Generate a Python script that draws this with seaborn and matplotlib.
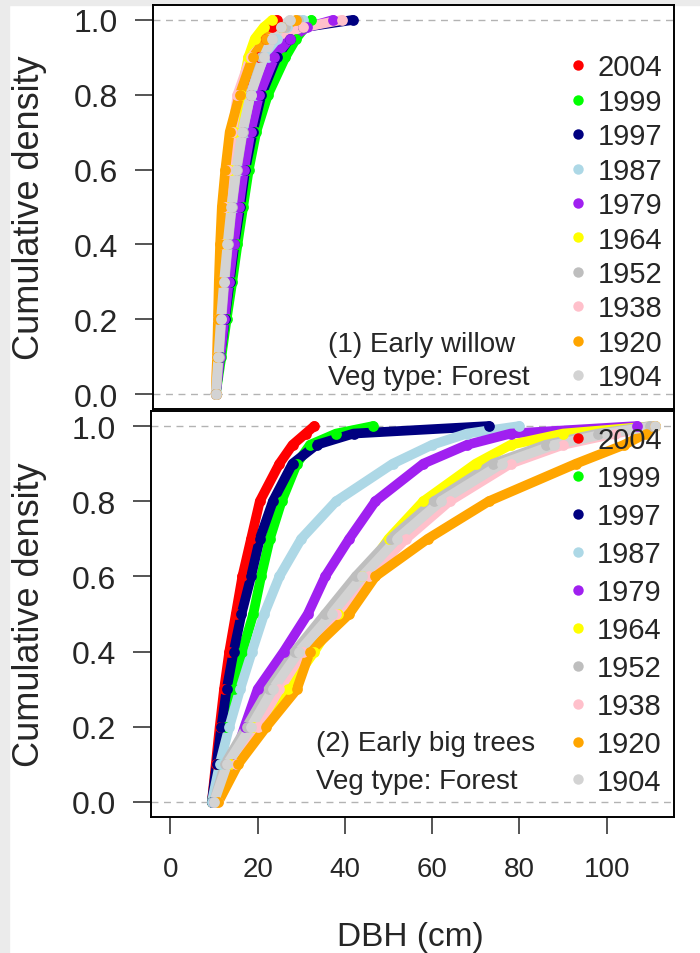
import matplotlib
matplotlib.use("Agg")
import matplotlib.pyplot as plt
import seaborn as sns
from matplotlib.lines import Line2D
from matplotlib.patches import Rectangle

sns.set_style("white")
plt.rcParams['font.family'] = ['Liberation Sans', 'DejaVu Sans']

years = ["2004", "1999", "1997", "1987", "1979", "1964", "1952", "1938", "1920", "1904"]
year_colors = ["#FF0000", "#00FF00", "#000080", "#ADD8E6", "#A020F0",
               "#FFFF00", "#BEBEBE", "#FFC0CB", "#FFA500", "#D3D3D3"]

cum_levels = [0, 0.1, 0.2, 0.3, 0.4, 0.5, 0.6, 0.7, 0.8, 0.9, 0.95, 0.98, 1.0]

# (1) Early willow, DBH (cm) at each level
willow_2004 = [10, 10.7, 11.4, 12.2, 13, 13.9, 15, 16.3, 18, 20, 21.5, 23, 24]
willow_1999 = [10, 11.3, 12.5, 13.8, 15, 16.3, 17.6, 19.3, 22, 26, 28.5, 30.5, 32]
willow_1997 = [10, 11, 12.1, 13.2, 14.3, 15.6, 16.8, 18.5, 20.5, 24, 27, 30, 41.5]
willow_1987 = [10, 10.8, 11.6, 12.5, 13.4, 14.4, 15.6, 17, 19, 22, 24, 26.5, 30]
willow_1979 = [10, 11, 12, 13, 14.1, 15.3, 16.5, 18, 20, 23.5, 27, 31, 37]
willow_1964 = [10, 10.4, 10.8, 11.3, 11.9, 12.6, 13.5, 14.5, 15.8, 17.5, 19, 21, 23]
willow_1952 = [10, 10.7, 11.3, 12, 12.8, 13.7, 14.8, 16.2, 18, 20.5, 23, 26, 29]
willow_1938 = [10, 10.3, 10.6, 11, 11.5, 12.1, 12.9, 13.8, 15, 18, 22, 30, 39]
willow_1920 = [10, 10.3, 10.5, 10.7, 11, 11.4, 12.2, 13.2, 15.5, 18.5, 21.5, 25, 28.5]
willow_1904 = [10, 10.6, 11.2, 11.9, 12.7, 13.6, 14.7, 16.1, 18, 21, 23, 25, 27]

# (2) Early big trees
big_2004 = [9.5, 10.4, 11.3, 12.3, 13.5, 15, 16.5, 18.5, 20.5, 25, 28, 31, 33]
big_1999 = [9.5, 11, 12.8, 14.5, 16.5, 19, 20.8, 22.8, 25.5, 29, 32, 38, 46.5]
big_1997 = [9.5, 10.6, 11.7, 12.9, 14.5, 16.3, 18.5, 20.5, 23.5, 28, 33.5, 42, 73]
big_1987 = [9.5, 11.3, 13.5, 16, 18.7, 21.5, 25, 30, 38, 51, 60, 68, 80]
big_1979 = [10, 14.2, 17, 20, 26, 31.5, 35.5, 41, 47, 58, 68, 78, 107]
big_1964 = [10.5, 14, 19, 27, 33, 38.5, 44, 50, 58, 70, 78, 90, 111]
big_1952 = [10, 12.5, 17.5, 22.5, 28.5, 35.5, 42.5, 50.5, 60.5, 74, 86, 98, 110]
big_1938 = [11, 15, 20, 25, 30.5, 38, 45.5, 54, 64, 78, 90, 102, 111]
big_1920 = [11, 15.5, 22, 29, 32, 41, 47, 59, 73, 93, 104, 109, 111]
big_1904 = [10, 13, 18.5, 23.5, 29.5, 37, 44, 52, 62, 76, 88, 100, 111]

willow = [willow_2004, willow_1999, willow_1997, willow_1987, willow_1979,
          willow_1964, willow_1952, willow_1938, willow_1920, willow_1904]
big = [big_2004, big_1999, big_1997, big_1987, big_1979,
       big_1964, big_1952, big_1938, big_1920, big_1904]

x_ticks = [0, 20, 40, 60, 80, 100]
y_ticks = [0.0, 0.2, 0.4, 0.6, 0.8, 1.0]

fig = plt.figure(figsize=(7.0, 9.54), dpi=100)
fig.patch.set_facecolor("white")
# screenshot border
fig.add_artist(Rectangle((0, 0), 9 / 700, 1, transform=fig.transFigure, color="#ebebeb", zorder=-5))
fig.add_artist(Rectangle((0, 1 - 6 / 954), 1, 6 / 954, transform=fig.transFigure, color="#ebebeb", zorder=-5))

ax1 = fig.add_axes([153 / 700, 1 - 410 / 954, 521 / 700, 404 / 954])
ax2 = fig.add_axes([151 / 700, 1 - 818 / 954, 523 / 700, 406 / 954])


def draw_panel(ax, curves, title, leg_top, leg_spacing, txt_x, txt_y, txt_gap, ylab_x):
    ax.axhline(0, color="#b3b3b3", ls=(0, (5, 4)), lw=1.0, zorder=1)
    ax.axhline(1, color="#b3b3b3", ls=(0, (5, 4)), lw=1.0, zorder=1)
    for dbh, col in zip(curves, year_colors):
        sns.lineplot(x=dbh, y=cum_levels, sort=False, estimator=None, color=col,
                     lw=7, solid_capstyle="round", ax=ax, legend=False, zorder=2)
        sns.scatterplot(x=dbh, y=cum_levels, color=col, s=60, linewidth=0, ax=ax,
                        legend=False, zorder=3)
    ax.set_xlim(-4.44, 115.44)
    ax.set_ylim(-0.04, 1.04)
    ax.set_yticks(y_ticks)
    ax.set_yticklabels([f"{v:.1f}" for v in y_ticks])
    ax.tick_params(axis="y", direction="out", length=13, width=1.1, pad=12, labelsize=23, left=True)
    ax.set_ylabel("Cumulative density", fontsize=26)
    ax.yaxis.set_label_coords(ylab_x, 0.5)
    for s in ax.spines.values():
        s.set_linewidth(1.4)
        s.set_color("black")
    handles = [Line2D([], [], ls="", marker="o", markersize=7.5, color=c, markeredgewidth=0)
               for c in year_colors]
    ax.legend(handles, years, loc="upper right", bbox_to_anchor=(0.977, leg_top), frameon=False,
              fontsize=21, handlelength=0.6, handletextpad=0.35, labelspacing=leg_spacing,
              borderpad=0, borderaxespad=0)
    ax.text(txt_x, txt_y, title, transform=ax.transAxes, fontsize=20, ha="left", va="center")
    ax.text(txt_x, txt_y - txt_gap, "Veg type: Forest", transform=ax.transAxes, fontsize=20,
            ha="left", va="center")


draw_panel(ax1, willow, "(1) Early willow", 0.88, 0.22, 0.335, 0.161, 0.083, -0.203)
draw_panel(ax2, big, "(2) Early big trees", 0.962, 0.34, 0.315, 0.182, 0.094, -0.199)

ax1.set_xticks([])
ax1.set_xlabel("")
ax2.set_xticks(x_ticks)
ax2.set_xticklabels([str(v) for v in x_ticks])
ax2.tick_params(axis="x", direction="out", length=12, width=1.1, pad=16, labelsize=20, bottom=True)
ax2.set_xlabel("DBH (cm)", fontsize=24)
ax2.xaxis.set_label_coords(0.495, -0.255)

fig.savefig("out.png", dpi=100, facecolor=fig.get_facecolor())
